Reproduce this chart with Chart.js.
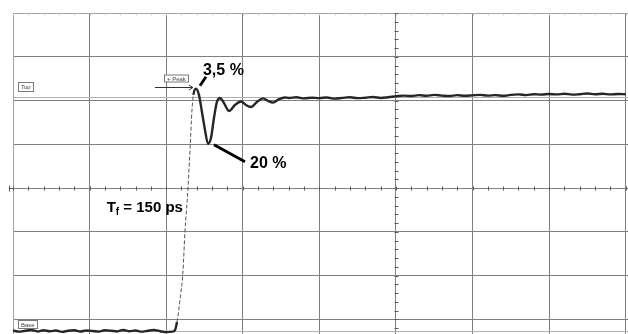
<!DOCTYPE html>
<html>
<head>
<meta charset="utf-8">
<script src="https://cdn.jsdelivr.net/npm/chart.js@4/dist/chart.umd.min.js"></script>
<style>
  html, body { margin: 0; padding: 0; background: #fff; overflow: hidden; }
  canvas { display: block; }
</style>
</head>
<body>
<canvas id="scope" width="628" height="334"></canvas>
<script>
// Step response of the output stage, sampled scope trace.
// Time in ps (1000 ps per division); level in % of the Base -> Top swing.

const baseTimes  = [0, 80, 160, 240, 320, 400, 480, 560, 640, 720, 800, 880, 960,
                    1040, 1120, 1200, 1280, 1360, 1440, 1520, 1600, 1680, 1760, 1840, 1920, 2000];
const baseLevels = [0.2, -0.3, 0.1, 0.4, -0.2, 0.3, -0.1, 0.2, -0.4, 0.1, 0.3, -0.2, 0.2,
                    0.0, -0.3, 0.3, 0.1, -0.2, 0.4, -0.1, 0.2, -0.3, 0.1, 0.4, -0.1, -0.5];

const edgeTimes  = [2076, 2115, 2141, 2180, 2219, 2245, 2285, 2311, 2337, 2356];
const edgeLevels = [-0.3, 0.4, 3.8, 13.2, 25.2, 42.3, 61.1, 77.4, 94.4, 100.9];

const ringTimes  = [2389, 2428, 2467, 2507, 2546, 2585, 2624, 2663, 2702, 2755, 2820,
                    2898, 2977, 3042, 3107, 3185, 3264, 3329, 3394, 3473, 3551];
const ringLevels = [103.5, 100.9, 93.6, 85.9, 80.0, 82.5, 91.0, 97.9, 99.6, 97.4, 94.0,
                    96.6, 98.1, 96.6, 95.7, 97.9, 99.4, 98.3, 97.6, 99.1, 99.8];

const settleTimes  = [3600, 3700, 3800, 3900, 4000, 4100, 4200, 4300, 4400, 4500, 4600,
                      4700, 4800, 4900, 5000, 5100, 5200, 5300, 5400, 5500, 5600, 5700,
                      5800, 5900, 6000, 6100, 6200, 6300, 6400, 6500, 6600, 6700, 6800,
                      6900, 7000, 7100, 7200, 7300, 7400, 7500, 7600, 7700, 7800, 7900, 8000];
const settleLevels = [99.6, 99.9, 99.4, 99.7, 99.5, 99.8, 99.3, 99.6, 99.9, 99.5, 99.7,
                      100.0, 99.6, 99.9, 100.3, 100.6, 100.4, 100.8, 100.5, 100.9, 100.6, 100.4,
                      100.8, 100.5, 100.7, 100.9, 100.6, 100.8, 100.5, 100.9, 101.1, 100.8, 101.2,
                      101.0, 101.3, 101.1, 101.4, 101.0, 101.2, 101.5, 101.2, 101.4, 101.1, 101.3, 101.2];

const TOP_LEVEL = 100;
const BASE_LEVEL = 0;
const RISE_TIME_PS = 150;

// Graticule: 1000 ps/div horizontally, 18.7 %/div vertically around the centre line
const T_PER_DIV = 1000;
const LEVEL_CENTER = 61.1;
const LEVEL_PER_DIV = 18.7;
const T_MAX = 8030;
const LEVEL_MIN = -1.3;
const LEVEL_MAX = LEVEL_CENTER + 4 * LEVEL_PER_DIV;

const times  = [...baseTimes, ...edgeTimes, ...ringTimes, ...settleTimes];
const levels = [...baseLevels, ...edgeLevels, ...ringLevels, ...settleLevels];
const points = times.map((t, i) => ({ x: t, y: levels[i] }));

const peakIndex = levels.indexOf(Math.max(...levels));
const dipIndex = baseTimes.length + edgeTimes.length +
  ringLevels.indexOf(Math.min(...ringLevels.slice(0, 8)));
const edgeFrom = baseTimes.length + 2;
const edgeTo = baseTimes.length + edgeTimes.length - 1;
const onEdge = c => c.p0DataIndex >= edgeFrom && c.p1DataIndex <= edgeTo;

const fmt = v => (Math.round(v * 10) / 10).toString().replace('.', ',') + ' %';

const LABEL_FONT = '"Liberation Sans", Arial, sans-serif';

function strokeLine(ctx, x1, y1, x2, y2) {
  ctx.beginPath(); ctx.moveTo(x1, y1); ctx.lineTo(x2, y2); ctx.stroke();
}

function tag(ctx, text, x, y, h) {
  ctx.font = '6px ' + LABEL_FONT;
  const w = Math.round(ctx.measureText(text).width) + 5;
  ctx.fillStyle = '#fff';
  ctx.fillRect(x, y, w, h);
  ctx.strokeStyle = '#7a7a7a';
  ctx.lineWidth = 1;
  ctx.strokeRect(x + 0.5, y + 0.5, w, h);
  ctx.fillStyle = '#444';
  ctx.textBaseline = 'middle';
  ctx.textAlign = 'left';
  ctx.fillText(text, x + 3, y + h / 2 + 1);
}

const graticule = {
  id: 'graticule',
  beforeDatasetsDraw(chart) {
    const { ctx, chartArea: a, scales: { x, y } } = chart;
    ctx.save();
    // Top / Base reference levels
    ctx.strokeStyle = '#b0b0b0';
    ctx.lineWidth = 1;
    [TOP_LEVEL, BASE_LEVEL].forEach(v => {
      const py = Math.round(y.getPixelForValue(v)) + 0.5;
      strokeLine(ctx, a.left, py, a.right, py);
    });
    // minor ticks on the centre axes
    ctx.strokeStyle = '#5a5a5a';
    const cy = Math.round(y.getPixelForValue(LEVEL_CENTER)) + 0.5;
    for (let t = 0; t <= T_MAX; t += T_PER_DIV / 5) {
      const px = Math.round(x.getPixelForValue(t)) + 0.5;
      strokeLine(ctx, px, cy - 2, px, cy + 2);
    }
    const cx = Math.round(x.getPixelForValue(5 * T_PER_DIV)) + 0.5;
    for (let k = -20; k <= 20; k++) {
      const py = Math.round(y.getPixelForValue(LEVEL_CENTER + k * LEVEL_PER_DIV / 5)) + 0.5;
      if (py > a.top && py < a.bottom) strokeLine(ctx, cx - 2, py, cx + 2, py);
    }
    // faint minor ticks along the top edge
    ctx.strokeStyle = '#c8c8c8';
    const ty = Math.round(a.top) + 0.5;
    for (let t = 0; t <= T_MAX; t += T_PER_DIV / 5) {
      const px = Math.round(x.getPixelForValue(t)) + 0.5;
      strokeLine(ctx, px, ty, px, ty + 2);
    }
    // centre line stub left of the graticule
    ctx.strokeStyle = '#5a5a5a';
    strokeLine(ctx, a.left - 4, cy, a.left, cy);
    strokeLine(ctx, a.left - 3.5, cy - 3, a.left - 3.5, cy + 3);
    ctx.restore();
  },
  afterDatasetsDraw(chart) {
    const { ctx, chartArea: a, scales: { y } } = chart;
    const pts = chart.getDatasetMeta(0).data;
    const peak = pts[peakIndex];
    const dip = pts[dipIndex];
    ctx.save();

    // level markers
    const topY = Math.round(y.getPixelForValue(TOP_LEVEL));
    const baseY = Math.round(y.getPixelForValue(BASE_LEVEL));
    tag(ctx, 'Top', a.left + 5, topY - 15, 9);
    tag(ctx, 'Base', a.left + 5, baseY - 11, 8);

    // + Peak marker with arrow
    const py = Math.round(peak.y) - 1.5;
    tag(ctx, '+ Peak', Math.round(peak.x) - 32, py - 13, 7);
    ctx.strokeStyle = '#333';
    ctx.lineWidth = 1;
    strokeLine(ctx, peak.x - 41, py, peak.x - 3, py);
    strokeLine(ctx, peak.x - 3, py, peak.x - 7, py - 2.5);
    strokeLine(ctx, peak.x - 3, py, peak.x - 7, py + 2.5);

    // callouts
    ctx.strokeStyle = '#000';
    ctx.fillStyle = '#000';
    ctx.lineWidth = 2.8;
    ctx.lineCap = 'butt';
    strokeLine(ctx, peak.x + 4, peak.y - 3, peak.x + 10, peak.y - 12);
    strokeLine(ctx, dip.x + 6, dip.y + 1, dip.x + 37, dip.y + 18);

    ctx.font = 'bold 16px ' + LABEL_FONT;
    ctx.textAlign = 'left';
    ctx.textBaseline = 'alphabetic';
    ctx.fillText(fmt(levels[peakIndex] - TOP_LEVEL), peak.x + 7, peak.y - 14);
    ctx.fillText(fmt(TOP_LEVEL - levels[dipIndex]), dip.x + 42, dip.y + 24);

    // rise time label, placed left of the edge
    const ref = pts[baseTimes.length + 5];
    const rest = ' = ' + RISE_TIME_PS + ' ps';
    ctx.font = 'bold 15px ' + LABEL_FONT;
    const wT = ctx.measureText('T').width;
    const wRest = ctx.measureText(rest).width;
    ctx.font = 'bold 10px ' + LABEL_FONT;
    const wF = ctx.measureText('f').width;
    const right = ref.x - 2;
    const base = ref.y - 20;
    let xx = right - (wT + wF + wRest);
    ctx.font = 'bold 15px ' + LABEL_FONT;
    ctx.fillText('T', xx, base);
    xx += wT;
    ctx.font = 'bold 10px ' + LABEL_FONT;
    ctx.fillText('f', xx, base + 3);
    xx += wF;
    ctx.font = 'bold 15px ' + LABEL_FONT;
    ctx.fillText(rest, xx, base);
    ctx.restore();
  }
};

new Chart(document.getElementById('scope'), {
  type: 'line',
  data: {
    datasets: [{
      data: points,
      borderColor: '#262626',
      borderWidth: 2.4,
      pointRadius: 0,
      cubicInterpolationMode: 'monotone',
      segment: {
        borderDash: c => onEdge(c) ? [4, 2] : undefined,
        borderWidth: c => onEdge(c) ? 1 : undefined,
        borderColor: c => onEdge(c) ? '#555' : undefined
      }
    }]
  },
  options: {
    responsive: false,
    animation: false,
    devicePixelRatio: 1,
    layout: { padding: { left: 13, top: 13, right: 0, bottom: 0 } },
    plugins: { legend: { display: false }, tooltip: { enabled: false } },
    scales: {
      x: {
        type: 'linear',
        min: 0,
        max: T_MAX,
        afterBuildTicks: s => {
          const ticks = [];
          for (let t = 0; t <= T_MAX; t += T_PER_DIV) ticks.push({ value: t });
          s.ticks = ticks;
        },
        ticks: { display: false },
        grid: {
          drawTicks: false,
          color: c => (c.tick && c.tick.value === 0) ? '#a0a0a0' : '#7f7f7f',
          lineWidth: 1
        },
        border: { display: false }
      },
      y: {
        type: 'linear',
        min: LEVEL_MIN,
        max: LEVEL_MAX,
        afterBuildTicks: s => {
          const ticks = [];
          for (let k = -3; k <= 4; k++) ticks.push({ value: LEVEL_CENTER + k * LEVEL_PER_DIV });
          s.ticks = ticks;
        },
        ticks: { display: false },
        grid: {
          drawTicks: false,
          color: c => (c.tick && c.tick.value === LEVEL_MAX) ? '#a6a6a6' : '#7f7f7f',
          lineWidth: 1
        },
        border: { display: true, color: '#a0a0a0' }
      }
    }
  },
  plugins: [graticule]
});
</script>
</body>
</html>
